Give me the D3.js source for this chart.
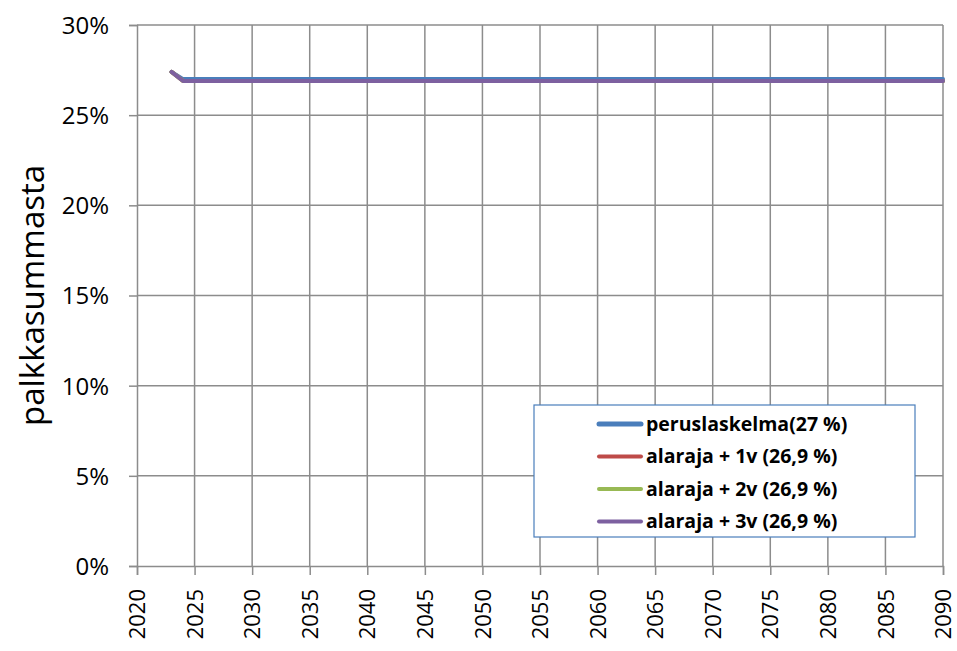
<!DOCTYPE html>
<html>
<head>
<meta charset="utf-8">
<script src="https://cdn.jsdelivr.net/npm/d3@7"></script>
<style>
  body { margin: 0; background: #fff; }
  text { font-family: "Open Sans", "DejaVu Sans", sans-serif; fill: #000; }
</style>
</head>
<body>
<div id="chart"></div>
<script>
// vuodet ja arvot (% palkkasummasta), tasainen 2024 jälkeen
var years = [2023, 2024, 2090];
var perus = [27.4, 27.0, 27.0];
var ala1v = [27.4, 26.9, 26.9];
var ala2v = [27.4, 26.9, 26.9];
var ala3v = [27.4, 26.9, 26.9];

var seriesNames = ["peruslaskelma(27 %)", "alaraja + 1v (26,9 %)", "alaraja + 2v (26,9 %)", "alaraja + 3v (26,9 %)"];
var seriesColors = ["#4a7ebb", "#be4b48", "#98b954", "#7d60a0"];
var seriesValues = [perus, ala1v, ala2v, ala3v];

var xTicks = d3.range(2020, 2091, 5);
var yTicks = [0, 5, 10, 15, 20, 25, 30];

var width = 957, height = 651;
var margin = {top: 25, left: 137, right: 14, bottom: 85};

var svg = d3.select("#chart").append("svg")
  .attr("width", width)
  .attr("height", height);

var x = d3.scaleLinear().domain([2020, 2090]).range([margin.left, width - margin.right]);
var y = d3.scaleLinear().domain([0, 30]).range([height - margin.bottom, margin.top]);

var grid = "#8c8c8c";

// ruudukko
svg.append("g").selectAll("line.v")
  .data(xTicks.slice(1))
  .enter().append("line")
  .attr("x1", function(d){ return x(d); })
  .attr("x2", function(d){ return x(d); })
  .attr("y1", y(30)).attr("y2", y(0))
  .style("stroke", grid).style("stroke-width", 1.5);

svg.append("g").selectAll("line.h")
  .data(yTicks.slice(1))
  .enter().append("line")
  .attr("x1", x(2020)).attr("x2", x(2090))
  .attr("y1", function(d){ return y(d); })
  .attr("y2", function(d){ return y(d); })
  .style("stroke", grid).style("stroke-width", 1.5);

// akselit
var yAxis = d3.axisLeft(y).tickValues(yTicks).tickSize(8).tickPadding(20)
  .tickFormat(function(d){ return d + "%"; });
var ya = svg.append("g").attr("transform", "translate(" + x(2020) + ",0)").call(yAxis);
ya.select(".domain").style("stroke", grid).style("stroke-width", 1.5);
ya.selectAll(".tick line").style("stroke", grid).style("stroke-width", 1.5);
ya.selectAll("text").style("font-size", "24px").attr("dy", "0.35em");

var xAxis = d3.axisBottom(x).tickValues(xTicks).tickSize(9).tickFormat(d3.format("d"));
var xa = svg.append("g").attr("transform", "translate(0," + y(0) + ")").call(xAxis);
xa.select(".domain").style("stroke", grid).style("stroke-width", 1.5);
xa.selectAll(".tick line").style("stroke", grid).style("stroke-width", 1.5);
xa.selectAll("text")
  .style("font-size", "22px")
  .style("text-anchor", "end")
  .attr("transform", "rotate(-90)")
  .attr("x", -23).attr("y", 0).attr("dy", "0.35em");

svg.append("text")
  .attr("transform", "translate(44," + ((y(0) + y(30)) / 2) + ") rotate(-90)")
  .style("text-anchor", "middle")
  .style("font-size", "33px")
  .text("palkkasummasta");

// viivat
var line = d3.line()
  .x(function(d, i){ return x(years[i]); })
  .y(function(d){ return y(d); });

seriesValues.forEach(function(vals, i){
  svg.append("path")
    .datum(vals)
    .attr("d", line)
    .style("fill", "none")
    .style("stroke", seriesColors[i])
    .style("stroke-width", 4)
    .style("stroke-linejoin", "round")
    .style("stroke-linecap", "round");
});

// selite
var lg = svg.append("g");
lg.append("rect")
  .attr("x", 534).attr("y", 405).attr("width", 381).attr("height", 132)
  .style("fill", "#fff").style("stroke", "#4a7ebb").style("stroke-width", 1.2);

seriesNames.forEach(function(name, i){
  var yy = 424 + i * 32.5;
  lg.append("line")
    .attr("x1", 599).attr("x2", 641).attr("y1", yy).attr("y2", yy)
    .style("stroke", seriesColors[i])
    .style("stroke-width", i == 0 ? 5 : 4)
    .style("stroke-linecap", "round");
  lg.append("text")
    .attr("x", 646).attr("y", yy).attr("dy", "0.35em")
    .style("font-size", "19.5px").style("font-weight", "bold")
    .text(name);
});
</script>
</body>
</html>
